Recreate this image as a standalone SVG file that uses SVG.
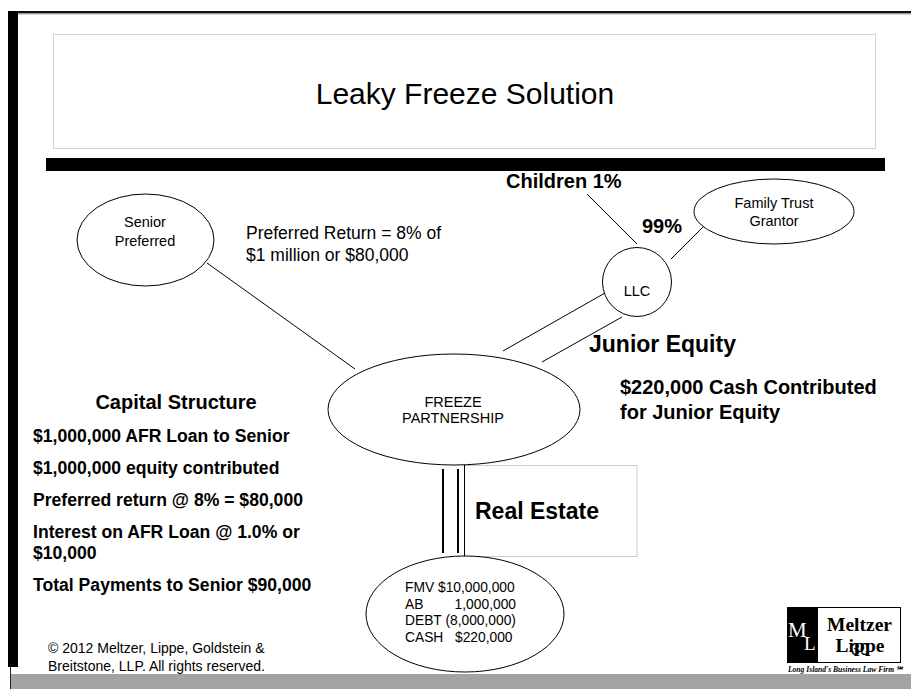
<svg xmlns="http://www.w3.org/2000/svg" width="911" height="689" viewBox="0 0 911 689">
<style>
text{font-family:"Liberation Sans",Arial,sans-serif;fill:#000}
.n{fill:#fff;stroke:#000;stroke-width:1}
.c{stroke:#000;stroke-width:1;fill:none}
.t{stroke:#000;stroke-width:2;fill:none}
.s{font-size:14.500px}
.f{font-size:13.800px}
.p{font-size:17.500px}
.b{font-weight:bold;font-size:17.600px}
.h{font-weight:bold;font-size:20px}
.j{font-weight:bold;font-size:23px}
.a{text-anchor:middle}
.l{font-family:"Liberation Serif",serif;font-weight:bold}
.w{font-family:"Liberation Serif",serif;fill:#fff}
</style>
<rect width="911" height="689" fill="#fff"/>
<rect id="top-rule" x="18" y="11" width="893" height="2.500" fill="#111"/>
<rect x="18" y="13.500" width="893" height="1" fill="#aaa"/>
<rect id="left-bar" x="8" y="11" width="10" height="656" fill="#000"/>
<rect id="bottom-band" x="10" y="674" width="901" height="15" fill="#a3a3a3"/>
<rect x="10" y="667" width="1" height="22" fill="#222"/>
<g id="title"><rect x="53.500" y="34.500" width="822" height="114" fill="#fff" stroke="#d4d4d4"/>
<text x="465" y="104" class="a" font-size="30">Leaky Freeze Solution</text></g>
<rect id="title-rule" x="46" y="158" width="839" height="13" fill="#000"/>
<g id="real-estate-label"><rect x="464.500" y="465.500" width="172.500" height="91" fill="#fff" stroke="#ccc"/>
<text x="475" y="519" class="j">Real Estate</text></g>
<g id="connectors">
<line class="c" x1="207" y1="263" x2="355" y2="369"/>
<line class="c" x1="587" y1="194" x2="637" y2="244"/>
<line class="c" x1="671" y1="259" x2="705" y2="225"/>
<line class="c" x1="503" y1="351" x2="605" y2="293"/>
<line class="c" x1="542" y1="362" x2="622" y2="317"/>
<line class="t" x1="443" y1="469" x2="443" y2="553"/>
<line class="t" x1="458" y1="469" x2="458" y2="553"/>
<line class="c" x1="464.500" y1="465" x2="464.500" y2="556"/>
</g>
<g id="senior-preferred"><ellipse class="n" cx="145.500" cy="240" rx="68.500" ry="46"/>
<text class="s a" x="145" y="227">Senior</text><text class="s a" x="145" y="246">Preferred</text></g>
<g id="family-trust"><ellipse class="n" cx="774" cy="211.500" rx="80" ry="32.500"/>
<text class="s a" x="774" y="208">Family Trust</text><text class="s a" x="774" y="226">Grantor</text></g>
<g id="llc"><circle class="n" cx="637" cy="282" r="34.500"/><text class="s a" x="637" y="296">LLC</text></g>
<g id="freeze-partnership"><ellipse class="n" cx="454" cy="409.500" rx="126" ry="55.500"/>
<text class="s a" x="453" y="407">FREEZE</text><text class="s a" x="453" y="423">PARTNERSHIP</text></g>
<g id="real-estate-assets"><ellipse class="n" cx="465" cy="614" rx="99" ry="58"/>
<text class="f" x="405" y="592">FMV $10,000,000</text>
<text class="f" x="405" y="609">AB</text><text class="f" x="516" y="609" text-anchor="end">1,000,000</text>
<text class="f" x="405" y="625">DEBT (8,000,000)</text>
<text class="f" x="405" y="642">CASH</text><text class="f" x="455" y="642">$220,000</text></g>
<text x="246" y="239" class="p">Preferred Return = 8% of</text>
<text x="246" y="261" class="p">$1 million or $80,000</text>
<text x="506" y="188" class="h">Children 1%</text>
<text x="642" y="233" class="h">99%</text>
<text x="589" y="352" class="j">Junior Equity</text>
<text x="620" y="394" class="h">$220,000 Cash Contributed</text>
<text x="620" y="419" class="h">for Junior Equity</text>
<text x="176" y="409" class="a h">Capital Structure</text>
<text x="33" y="442" class="b">$1,000,000 AFR Loan to Senior</text>
<text x="33" y="474" class="b">$1,000,000 equity contributed</text>
<text x="33" y="506" class="b">Preferred return @ 8% = $80,000</text>
<text x="33" y="538" class="b">Interest on AFR Loan @ 1.0% or</text>
<text x="33" y="559" class="b">$10,000</text>
<text x="33" y="591" class="b">Total Payments to Senior $90,000</text>
<text x="48" y="653" font-size="14">© 2012 Meltzer, Lippe, Goldstein &amp;</text>
<text x="48" y="671" font-size="14">Breitstone, LLP. All rights reserved.</text>
<g id="logo">
<rect x="787.500" y="607.500" width="113" height="55" fill="#fff" stroke="#000"/>
<rect x="787" y="607" width="31" height="56" fill="#000"/>
<text x="788" y="637" font-size="21" class="w">M</text>
<text x="804" y="650" font-size="19" class="w">L</text>
<text x="859.500" y="631" class="a l" font-size="19.500">Meltzer</text>
<text x="860" y="652" class="a l" font-size="19.500">Lippe</text>
<text x="860" y="655" class="a" font-size="16">30</text>
<text x="845" y="672" class="a l" font-size="7.600" font-style="italic">Long Island's Business Law Firm ℠</text>
</g>
</svg>
